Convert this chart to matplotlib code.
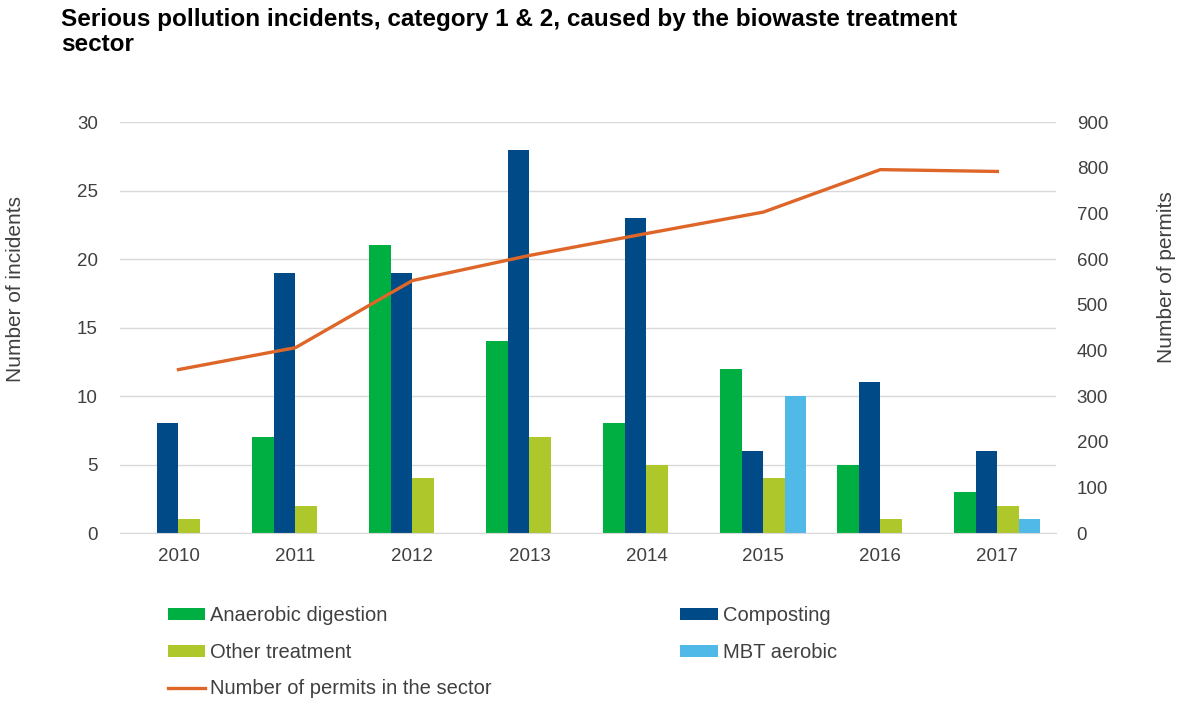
import matplotlib.pyplot as plt
import numpy as np

# data
years = ["2010", "2011", "2012", "2013", "2014", "2015", "2016", "2017"]
anaerobic = [0, 7, 21, 14, 8, 12, 5, 3]
composting = [8, 19, 19, 28, 23, 6, 11, 6]
other = [1, 2, 4, 7, 5, 4, 1, 2]
mbt = [0, 0, 0, 0, 0, 10, 0, 1]
permits = [358, 406, 553, 608, 656, 703, 796, 792]

plt.rcParams['font.family'] = ['Liberation Sans', 'DejaVu Sans']
txt = '#404040'

fig = plt.figure(figsize=(11.81, 7.02), dpi=100)
ax = fig.add_axes([0.1016, 0.2407, 0.7924, 0.5853])
ax2 = ax.twinx()

x = np.arange(len(years))
w = 0.184
ax.bar(x - 1.5 * w, anaerobic, w, color='#00AF41', label='Anaerobic digestion')
ax.bar(x - 0.5 * w, composting, w, color='#004B87', label='Composting')
ax.bar(x + 0.5 * w, other, w, color='#AEC72A', label='Other treatment')
ax.bar(x + 1.5 * w, mbt, w, color='#50B9E7', label='MBT aerobic')
ax2.plot(x, permits, color='#DD6628', lw=2.4, label='Number of permits in the sector')

ax.set_xlim(-0.5, len(years) - 0.5)
ax.set_ylim(0, 30)
ax2.set_ylim(0, 900)
ax.set_yticks(range(0, 31, 5))
ax2.set_yticks(range(0, 901, 100))
ax.set_xticks(x)
ax.set_xticklabels(years)
ax.yaxis.grid(True, color='#D9D9D9', lw=1)
ax.set_axisbelow(True)
for a in (ax, ax2):
    for s in a.spines.values():
        s.set_visible(False)
    a.tick_params(length=0, labelsize=13.5, colors=txt)
ax.spines['bottom'].set_visible(True)
ax.spines['bottom'].set_color('#D9D9D9')
ax.tick_params(axis='x', pad=11)
ax.tick_params(axis='y', pad=16)
ax2.tick_params(axis='y', pad=15)

ax.set_ylabel('Number of incidents', fontsize=15, color=txt)
ax.yaxis.set_label_coords(-0.1015, 0.594)
ax2.set_ylabel('Number of permits', fontsize=15, color=txt, rotation=90)
ax2.yaxis.set_label_coords(1.108, 0.623)

fig.text(0.052, 0.988, 'Serious pollution incidents, category 1 & 2, caused by the biowaste treatment\nsector',
         fontsize=17.5, fontweight='bold', va='top', ha='left', linespacing=1.1)

h1, l1 = ax.get_legend_handles_labels()
h2, l2 = ax2.get_legend_handles_labels()
handles = [h1[0], h1[2], h2[0], h1[1], h1[3]]
labels = [l1[0], l1[2], l2[0], l1[1], l1[3]]
fig.legend(handles, labels, ncol=2, loc='upper left', bbox_to_anchor=(0.127, 0.162),
           frameon=False, fontsize=14.5, handlelength=1.85, handleheight=0.55,
           handletextpad=0.25, labelspacing=0.87, columnspacing=9.35,
           labelcolor=txt)

fig.savefig('out.png', dpi=100)
